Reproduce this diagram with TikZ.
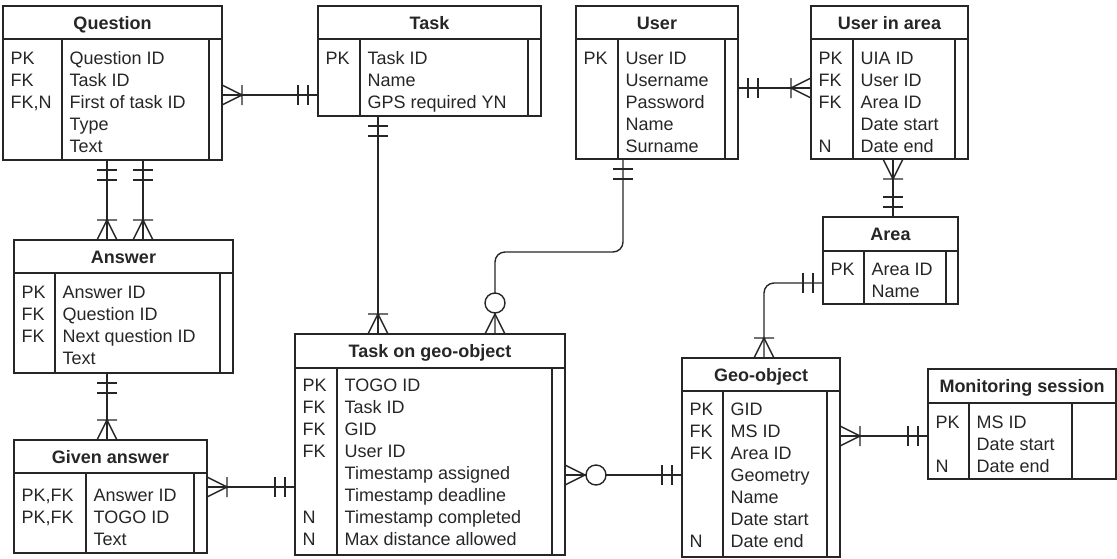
\documentclass[tikz,border=0pt]{standalone}
\usepackage{fontspec}
\setmainfont{Liberation Sans}
\newcommand\erfont{\fontsize{18}{22}\selectfont}
\tikzset{
  tbl/.style={draw, inner sep=0pt, outer sep=0pt},
  ttl/.style={font=\erfont\bfseries, inner sep=0pt, text height=13pt, text depth=0pt},
  fld/.style={font=\erfont, anchor=base west, inner sep=0pt},
  % crow's-foot ends, drawn with the entity edge at the origin and the line along +x
  pics/mandone/.style={code={\draw (10,-10)--(10,10) (20,-10)--(20,10);}},
  pics/onemany/.style={code={\draw (0,-10)--(20,0)--(0,10) (20,-10)--(20,10);}},
  pics/zeromany/.style={code={\draw (0,-10)--(20,0)--(0,10); \draw[fill=white] (31,0) circle[radius=10pt];}},
}
% #1 name, #2 x1, #3 y1, #4 x2, #5 y2, #6 header bottom, #7 key divider, #8 right divider, #9 title
\newcommand\ertable[9]{%
  \node[tbl, minimum width={(#4-#2)*1pt}, minimum height={(#5-#3)*1pt}] (#1) at ({(#2+#4)/2},{(#3+#5)/2}) {};
  \draw (#2,#6) -- (#4,#6) (#7,#6) -- (#7,#5) (#8,#6) -- (#8,#5);
  \node[ttl] (#1-title) at ({(#2+#4)/2},{(#3+#6)/2}) {#9};
}
% #1 name prefix, #2 x, #3 centre of first row, #4 rows
\newcommand\errows[4]{%
  \foreach \txt [count=\i] in {#4} \node[fld] (#1\i) at (#2,{#3+6+22*(\i-1)}) {\txt};
}
\begin{document}
\begin{tikzpicture}[x=1pt, y=-1pt, line width=1.4pt, color={black!85}]
\useasboundingbox (0,0) rectangle (1117,558);

% entities
\ertable{q}{3}{6}{222}{160}{39}{62}{209}{Question}
\errows{qk}{10}{58}{PK,FK,{FK,N}}
\errows{qf}{69}{58}{Question ID,Task ID,First of task ID,Type,Text}

\ertable{task}{318}{6}{541}{116}{39}{360}{528}{Task}
\errows{tk}{325}{58}{PK}
\errows{tf}{367}{58}{Task ID,Name,GPS required YN}

\ertable{user}{576}{6}{738}{159}{39}{618}{725}{User}
\errows{uk}{583}{58}{PK}
\errows{uf}{625}{58}{User ID,Username,Password,Name,Surname}

\ertable{uia}{811}{6}{968}{159}{39}{853}{955}{User in area}
\errows{uiak}{818}{58}{PK,FK,FK,{},N}
\errows{uiaf}{860}{58}{UIA ID,User ID,Area ID,Date start,Date end}

\ertable{ans}{14}{240}{233}{373}{273}{55}{220}{Answer}
\errows{ak}{21}{292}{PK,FK,FK}
\errows{af}{62}{292}{Answer ID,Question ID,Next question ID,Text}

\ertable{given}{14}{440}{207}{553}{473}{86}{194}{Given answer}
\errows{gk}{21}{495}{{PK,FK},{PK,FK}}
\errows{gf}{93}{495}{Answer ID,TOGO ID,Text}

\ertable{togo}{295}{334}{565}{555}{368}{337}{552}{Task on geo-object}
\errows{tgk}{302}{385}{PK,FK,FK,FK,{},{},N,N}
\errows{tgf}{344}{385}{TOGO ID,Task ID,GID,User ID,Timestamp assigned,Timestamp deadline,Timestamp completed,Max distance allowed}

\ertable{geo}{682}{358}{840}{557}{391}{723}{827}{Geo-object}
\errows{gok}{689}{409}{PK,FK,FK,{},{},{},N}
\errows{gof}{730}{409}{GID,MS ID,Area ID,Geometry,Name,Date start,Date end}

\ertable{area}{823}{217}{958}{304}{251}{864}{946}{Area}
\errows{ark}{830}{269}{PK}
\errows{arf}{871}{269}{Area ID,Name}

\ertable{ms}{928}{369}{1116}{479}{403}{969}{1072}{Monitoring session}
\errows{msk}{935}{422}{PK,{},N}
\errows{msf}{976}{422}{MS ID,Date start,Date end}

% relationships
\draw (q.east |- 0,95) -- (task.west |- 0,95);
\pic at (q.east |- 0,95) {onemany};
\pic[rotate=180] at (task.west |- 0,95) {mandone};

\foreach \xx in {107,143} {
  \draw (q.south -| \xx,0) -- (ans.north -| \xx,0);
  \pic[rotate=-90] at (q.south -| \xx,0) {mandone};
  \pic[rotate=90] at (ans.north -| \xx,0) {onemany};
}

\draw (ans.south -| 107,0) -- (given.north -| 107,0);
\pic[rotate=-90] at (ans.south -| 107,0) {mandone};
\pic[rotate=90] at (given.north -| 107,0) {onemany};

\draw (task.south -| 378,0) -- (togo.north -| 378,0);
\pic[rotate=-90] at (task.south -| 378,0) {mandone};
\pic[rotate=90] at (togo.north -| 378,0) {onemany};

\draw[rounded corners=10pt] (user.south -| 623,0) -- (623,252) -- (495,252) -- (togo.north -| 495,0);
\pic[rotate=-90] at (user.south -| 623,0) {mandone};
\pic[rotate=90] at (togo.north -| 495,0) {zeromany};

\draw (user.east |- 0,88) -- (uia.west |- 0,88);
\pic at (user.east |- 0,88) {mandone};
\pic[rotate=180] at (uia.west |- 0,88) {onemany};

\draw (uia.south -| 893,0) -- (area.north -| 893,0);
\pic[rotate=-90] at (uia.south -| 893,0) {onemany};
\pic[rotate=90] at (area.north -| 893,0) {mandone};

\draw[rounded corners=10pt] (area.west |- 0,283) -- (764,283) -- (geo.north -| 764,0);
\pic[rotate=180] at (area.west |- 0,283) {mandone};
\pic[rotate=90] at (geo.north -| 764,0) {onemany};

\draw (geo.east |- 0,436) -- (ms.west |- 0,436);
\pic at (geo.east |- 0,436) {onemany};
\pic[rotate=180] at (ms.west |- 0,436) {mandone};

\draw (togo.east |- 0,475) -- (geo.west |- 0,475);
\pic at (togo.east |- 0,475) {zeromany};
\pic[rotate=180] at (geo.west |- 0,475) {mandone};

\draw (given.east |- 0,487) -- (togo.west |- 0,487);
\pic at (given.east |- 0,487) {onemany};
\pic[rotate=180] at (togo.west |- 0,487) {mandone};
\end{tikzpicture}
\end{document}
